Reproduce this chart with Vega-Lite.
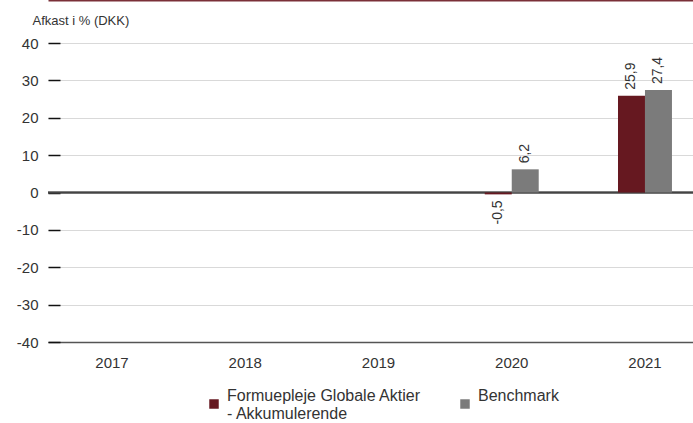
{
  "$schema": "https://vega.github.io/schema/vega-lite/v6.json",
  "width": 645,
  "height": 299,
  "padding": {"left": 48, "top": 43, "right": 0, "bottom": 81},
  "autosize": {"type": "none"},
  "background": "white",
  "config": {
    "font": "Liberation Sans",
    "view": {"stroke": null},
    "locale": {"number": {"decimal": ",", "thousands": ".", "grouping": [3], "currency": ["", " kr."], "minus": "-"}}
  },
  "data": {
    "values": [
      {"year": "2020", "series": "Formuepleje Globale Aktier - Akkumulerende", "value": -0.5},
      {"year": "2020", "series": "Benchmark", "value": 6.2},
      {"year": "2021", "series": "Formuepleje Globale Aktier - Akkumulerende", "value": 25.9},
      {"year": "2021", "series": "Benchmark", "value": 27.4}
    ]
  },
  "encoding": {
    "x": {"field": "year", "type": "nominal", "axis": null},
    "y": {
      "field": "value", "type": "quantitative",
      "scale": {"domain": [-40, 40], "nice": false},
      "axis": {
        "values": [-40, -30, -20, -10, 0, 10, 20, 30, 40],
        "title": "Afkast i % (DKK)", "titleAngle": 0, "titleAlign": "left", "titleBaseline": "alphabetic",
        "titleX": -16, "titleY": -19, "titleFontSize": 13, "titleFontWeight": "normal", "titleColor": "#333333",
        "domain": false, "tickSize": -12, "tickColor": "#111111", "tickWidth": 1.5,
        "labelFontSize": 15, "labelColor": "#333333", "labelPadding": 22,
        "gridColor": "#d9d9d9", "gridWidth": 1
      }
    }
  },
  "resolve": {"axis": {"x": "independent"}},
  "layer": [
    {
      "mark": {"type": "rule", "color": "#444444", "strokeWidth": 1.5},
      "encoding": {"y": {"datum": 0}, "x": {"value": 0}, "x2": {"value": 661}}
    },
    {
      "mark": {"type": "rule", "opacity": 0},
      "encoding": {
        "y": {"datum": 0},
        "x": {"field": "year", "type": "nominal",
          "axis": {"orient": "top", "offset": 43, "title": null, "labels": false, "ticks": false, "grid": false, "domainColor": "#7a3038", "domainWidth": 2}
        }
      }
    },
    {
      "mark": {"type": "bar"},
      "encoding": {
        "x": {
          "field": "year", "type": "nominal",
          "scale": {"domain": ["2017", "2018", "2019", "2020", "2021"], "range": [0, 661], "paddingInner": 0.595, "paddingOuter": 0.278},
          "axis": {"orient": "bottom", "title": null, "labelAngle": 0, "ticks": false, "grid": false, "domainColor": "#555555", "domainWidth": 1.5, "labelFontSize": 15, "labelColor": "#333333", "labelPadding": 13}
        },
        "xOffset": {"field": "series", "type": "nominal", "sort": ["Formuepleje Globale Aktier - Akkumulerende", "Benchmark"], "scale": {"paddingInner": 0, "paddingOuter": 0}},
        "color": {
          "field": "series", "type": "nominal",
          "sort": ["Formuepleje Globale Aktier - Akkumulerende", "Benchmark"],
          "scale": {"domain": ["Formuepleje Globale Aktier - Akkumulerende", "Benchmark"], "range": ["#661820", "#7b7b7b"]},
          "legend": {
            "title": null, "orient": "none", "legendX": 158, "legendY": 353, "direction": "horizontal", "columns": 2,
            "symbolType": "square", "symbolSize": 90, "symbolStrokeWidth": 0, "symbolOpacity": 1,
            "labelFontSize": 16, "labelColor": "#333333", "columnPadding": 36, "labelOffset": 5, "labelLimit": 400,
            "labelBaseline": "bottom",
            "labelExpr": "datum.label == 'Formuepleje Globale Aktier - Akkumulerende' ? ['Formuepleje Globale Aktier', '- Akkumulerende'] : [datum.label, '']"
          }
        }
      }
    },
    {
      "transform": [{"filter": "datum.value >= 0"}],
      "mark": {"type": "text", "angle": -90, "align": "left", "baseline": "middle", "dx": 6, "fontSize": 14, "color": "#333333"},
      "encoding": {
        "xOffset": {"field": "series", "type": "nominal", "sort": ["Formuepleje Globale Aktier - Akkumulerende", "Benchmark"]},
        "text": {"field": "value", "type": "quantitative", "format": ".1f"}
      }
    },
    {
      "transform": [{"filter": "datum.value < 0"}],
      "mark": {"type": "text", "angle": -90, "align": "right", "baseline": "middle", "dx": -6, "fontSize": 14, "color": "#333333"},
      "encoding": {
        "xOffset": {"field": "series", "type": "nominal", "sort": ["Formuepleje Globale Aktier - Akkumulerende", "Benchmark"]},
        "text": {"field": "value", "type": "quantitative", "format": ".1f"}
      }
    }
  ]
}
